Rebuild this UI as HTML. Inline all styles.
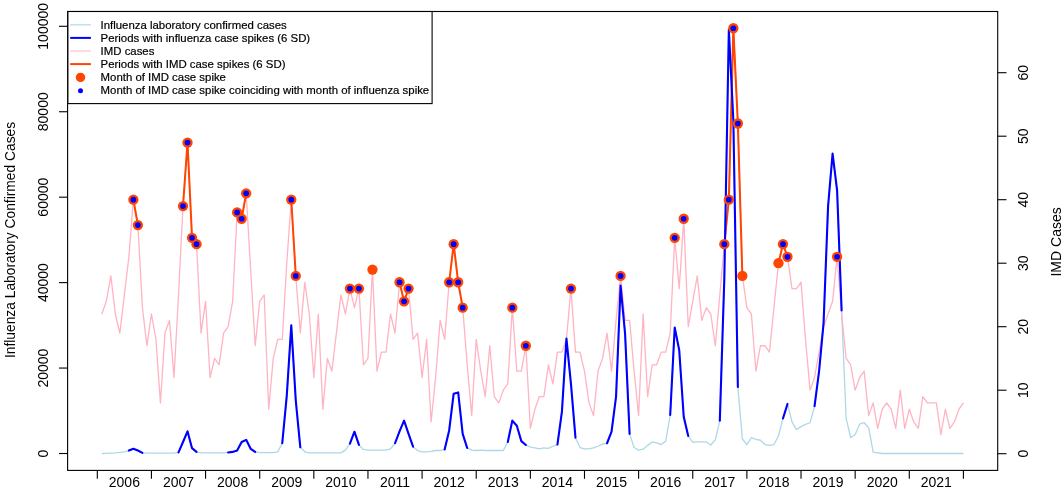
<!DOCTYPE html>
<html><head><meta charset="utf-8"><style>html,body{margin:0;padding:0;background:#fff;width:1064px;height:490px;overflow:hidden}</style></head>
<body><svg width="1064" height="490" viewBox="0 0 1064 490" style="display:block;will-change:transform"><rect x="0" y="0" width="1064" height="490" fill="#ffffff"/><polyline points="101.81,453.50 106.32,453.29 110.83,453.07 115.34,452.86 119.85,452.43 124.37,451.79 128.88,450.51 133.39,448.80 137.90,450.51 142.41,452.86 146.92,453.20 151.43,453.20 155.94,453.20 160.45,453.20 164.97,453.20 169.48,453.20 173.99,453.20 178.50,452.43 183.01,441.97 187.52,431.29 192.03,448.16 196.54,451.88 201.05,452.86 205.56,452.86 210.07,452.86 214.59,452.86 219.10,452.86 223.61,452.86 228.12,452.43 232.63,451.88 237.14,450.51 241.65,441.97 246.16,439.83 250.67,448.80 255.19,451.88 259.70,452.65 264.21,452.65 268.72,452.65 273.23,452.65 277.74,451.88 282.25,443.25 286.76,395.83 291.27,325.34 295.78,400.53 300.30,447.31 304.81,451.79 309.32,452.86 313.83,452.86 318.34,452.86 322.85,452.86 327.36,452.86 331.87,452.86 336.38,452.86 340.89,452.86 345.41,450.08 349.92,443.67 354.43,431.71 358.94,444.96 363.45,449.44 367.96,450.08 372.47,450.08 376.98,450.08 381.49,450.08 386.00,450.08 390.52,448.80 395.03,443.25 399.54,431.29 404.05,420.61 408.56,433.85 413.07,446.66 417.58,450.51 422.09,451.79 426.60,451.79 431.11,451.36 435.62,450.51 440.14,450.51 444.65,449.44 449.16,430.43 453.67,393.69 458.18,392.41 462.69,433.85 467.20,447.95 471.71,450.08 476.22,450.51 480.74,450.08 485.25,450.51 489.76,450.51 494.27,450.51 498.78,450.51 503.29,450.51 507.80,441.97 512.31,420.61 516.82,425.73 521.33,441.11 525.85,444.96 530.36,447.09 534.87,447.95 539.38,448.80 543.89,447.95 548.40,448.37 552.91,446.24 557.42,444.53 561.93,411.63 566.44,338.58 570.96,383.87 575.47,437.69 579.98,447.52 584.49,448.80 589.00,448.80 593.51,447.95 598.02,446.24 602.53,444.10 607.04,443.25 611.55,431.71 616.06,396.68 620.58,285.61 625.09,333.88 629.60,433.85 634.11,447.52 638.62,450.08 643.13,449.23 647.64,445.38 652.15,441.97 656.66,442.82 661.17,444.53 665.69,441.11 670.20,415.05 674.71,327.48 679.22,350.12 683.73,416.76 688.24,435.98 692.75,442.39 697.26,441.97 701.77,441.97 706.28,441.97 710.80,444.96 715.31,439.83 719.82,420.61 724.33,278.35 728.84,29.72 733.35,120.28 737.86,386.86 742.37,438.98 746.88,444.53 751.39,437.69 755.91,439.40 760.42,440.26 764.93,444.53 769.44,445.38 773.95,444.53 778.46,435.98 782.97,418.47 787.48,403.94 791.99,421.89 796.50,429.58 801.02,426.59 805.53,424.45 810.04,422.74 814.55,406.08 819.06,371.48 823.57,323.20 828.08,206.15 832.59,153.61 837.10,190.34 841.62,310.39 846.13,418.47 850.64,437.48 855.15,434.70 859.66,424.02 864.17,422.74 868.68,427.87 873.19,452.22 877.70,452.86 882.21,453.50 886.73,453.50 891.24,453.50 895.75,453.50 900.26,453.50 904.77,453.50 909.28,453.50 913.79,453.50 918.30,453.50 922.81,453.50 927.32,453.50 931.83,453.50 936.35,453.50 940.86,453.50 945.37,453.50 949.88,453.50 954.39,453.50 958.90,453.50 963.41,453.50" fill="none" stroke="#ADD8E6" stroke-width="1.3" stroke-linejoin="round"/><polyline points="101.81,314.00 106.32,301.30 110.83,275.90 115.34,314.00 119.85,333.05 124.37,294.95 128.88,256.85 133.39,199.70 137.90,225.10 142.41,307.65 146.92,345.75 151.43,314.00 155.94,339.40 160.45,402.90 164.97,333.05 169.48,320.35 173.99,377.50 178.50,294.95 183.01,206.05 187.52,142.55 192.03,237.80 196.54,244.15 201.05,333.05 205.56,301.30 210.07,377.50 214.59,358.45 219.10,364.80 223.61,333.05 228.12,326.70 232.63,301.30 237.14,212.40 241.65,218.75 246.16,193.35 250.67,269.55 255.19,345.75 259.70,301.30 264.21,294.95 268.72,409.25 273.23,358.45 277.74,339.40 282.25,339.40 286.76,263.20 291.27,199.70 295.78,275.90 300.30,333.05 304.81,282.25 309.32,314.00 313.83,377.50 318.34,314.00 322.85,409.25 327.36,358.45 331.87,371.15 336.38,333.05 340.89,294.95 345.41,314.00 349.92,288.60 354.43,307.65 358.94,288.60 363.45,364.80 367.96,358.45 372.47,269.55 376.98,371.15 381.49,352.10 386.00,352.10 390.52,314.00 395.03,333.05 399.54,282.25 404.05,301.30 408.56,288.60 413.07,339.40 417.58,333.05 422.09,377.50 426.60,339.40 431.11,421.95 435.62,377.50 440.14,320.35 444.65,339.40 449.16,282.25 453.67,244.15 458.18,282.25 462.69,307.65 467.20,364.80 471.71,415.60 476.22,339.40 480.74,371.15 485.25,396.55 489.76,345.75 494.27,396.55 498.78,402.90 503.29,390.20 507.80,383.85 512.31,307.65 516.82,371.15 521.33,371.15 525.85,345.75 530.36,428.30 534.87,409.25 539.38,396.55 543.89,396.55 548.40,364.80 552.91,383.85 557.42,352.10 561.93,352.10 566.44,339.40 570.96,288.60 575.47,352.10 579.98,352.10 584.49,371.15 589.00,402.90 593.51,415.60 598.02,371.15 602.53,358.45 607.04,333.05 611.55,371.15 616.06,320.35 620.58,275.90 625.09,320.35 629.60,320.35 634.11,371.15 638.62,415.60 643.13,314.00 647.64,396.55 652.15,364.80 656.66,364.80 661.17,352.10 665.69,352.10 670.20,333.05 674.71,237.80 679.22,288.60 683.73,218.75 688.24,326.70 692.75,301.30 697.26,275.90 701.77,320.35 706.28,307.65 710.80,314.00 715.31,345.75 719.82,294.95 724.33,244.15 728.84,199.70 733.35,28.25 737.86,123.50 742.37,275.90 746.88,307.65 751.39,314.00 755.91,371.15 760.42,345.75 764.93,345.75 769.44,352.10 773.95,307.65 778.46,263.20 782.97,244.15 787.48,256.85 791.99,288.60 796.50,288.60 801.02,282.25 805.53,339.40 810.04,390.20 814.55,377.50 819.06,352.10 823.57,326.70 828.08,314.00 832.59,301.30 837.10,256.85 841.62,314.00 846.13,358.45 850.64,364.80 855.15,390.20 859.66,377.50 864.17,371.15 868.68,415.60 873.19,402.90 877.70,428.30 882.21,409.25 886.73,402.90 891.24,409.25 895.75,428.30 900.26,390.20 904.77,428.30 909.28,409.25 913.79,421.95 918.30,428.30 922.81,396.55 927.32,402.90 931.83,402.90 936.35,402.90 940.86,434.65 945.37,409.25 949.88,428.30 954.39,421.95 958.90,409.25 963.41,402.90" fill="none" stroke="#FFB4C2" stroke-width="1.3" stroke-linejoin="round"/><polyline points="133.39,199.70 137.90,225.10" fill="none" stroke="#FF4500" stroke-width="2.0" stroke-linejoin="round" stroke-linecap="round"/><polyline points="183.01,206.05 187.52,142.55 192.03,237.80 196.54,244.15" fill="none" stroke="#FF4500" stroke-width="2.0" stroke-linejoin="round" stroke-linecap="round"/><polyline points="237.14,212.40 241.65,218.75 246.16,193.35" fill="none" stroke="#FF4500" stroke-width="2.0" stroke-linejoin="round" stroke-linecap="round"/><polyline points="291.27,199.70 295.78,275.90" fill="none" stroke="#FF4500" stroke-width="2.0" stroke-linejoin="round" stroke-linecap="round"/><polyline points="399.54,282.25 404.05,301.30 408.56,288.60" fill="none" stroke="#FF4500" stroke-width="2.0" stroke-linejoin="round" stroke-linecap="round"/><polyline points="449.16,282.25 453.67,244.15 458.18,282.25 462.69,307.65" fill="none" stroke="#FF4500" stroke-width="2.0" stroke-linejoin="round" stroke-linecap="round"/><polyline points="724.33,244.15 728.84,199.70 733.35,28.25 737.86,123.50 742.37,275.90" fill="none" stroke="#FF4500" stroke-width="2.0" stroke-linejoin="round" stroke-linecap="round"/><polyline points="778.46,263.20 782.97,244.15 787.48,256.85" fill="none" stroke="#FF4500" stroke-width="2.0" stroke-linejoin="round" stroke-linecap="round"/><polyline points="128.88,450.51 133.39,448.80 137.90,450.51 142.41,452.86" fill="none" stroke="#0000FF" stroke-width="2.1" stroke-linejoin="round" stroke-linecap="round"/><polyline points="178.50,452.43 183.01,441.97 187.52,431.29 192.03,448.16 196.54,451.88" fill="none" stroke="#0000FF" stroke-width="2.1" stroke-linejoin="round" stroke-linecap="round"/><polyline points="228.12,452.43 232.63,451.88 237.14,450.51 241.65,441.97 246.16,439.83 250.67,448.80 255.19,451.88" fill="none" stroke="#0000FF" stroke-width="2.1" stroke-linejoin="round" stroke-linecap="round"/><polyline points="282.25,443.25 286.76,395.83 291.27,325.34 295.78,400.53 300.30,447.31" fill="none" stroke="#0000FF" stroke-width="2.1" stroke-linejoin="round" stroke-linecap="round"/><polyline points="349.92,443.67 354.43,431.71 358.94,444.96" fill="none" stroke="#0000FF" stroke-width="2.1" stroke-linejoin="round" stroke-linecap="round"/><polyline points="395.03,443.25 399.54,431.29 404.05,420.61 408.56,433.85 413.07,446.66" fill="none" stroke="#0000FF" stroke-width="2.1" stroke-linejoin="round" stroke-linecap="round"/><polyline points="444.65,449.44 449.16,430.43 453.67,393.69 458.18,392.41 462.69,433.85 467.20,447.95" fill="none" stroke="#0000FF" stroke-width="2.1" stroke-linejoin="round" stroke-linecap="round"/><polyline points="507.80,441.97 512.31,420.61 516.82,425.73 521.33,441.11 525.85,444.96" fill="none" stroke="#0000FF" stroke-width="2.1" stroke-linejoin="round" stroke-linecap="round"/><polyline points="557.42,444.53 561.93,411.63 566.44,338.58 570.96,383.87 575.47,437.69" fill="none" stroke="#0000FF" stroke-width="2.1" stroke-linejoin="round" stroke-linecap="round"/><polyline points="607.04,443.25 611.55,431.71 616.06,396.68 620.58,285.61 625.09,333.88 629.60,433.85" fill="none" stroke="#0000FF" stroke-width="2.1" stroke-linejoin="round" stroke-linecap="round"/><polyline points="670.20,415.05 674.71,327.48 679.22,350.12 683.73,416.76 688.24,435.98" fill="none" stroke="#0000FF" stroke-width="2.1" stroke-linejoin="round" stroke-linecap="round"/><polyline points="719.82,420.61 724.33,278.35 728.84,29.72 733.35,120.28 737.86,386.86" fill="none" stroke="#0000FF" stroke-width="2.1" stroke-linejoin="round" stroke-linecap="round"/><polyline points="782.97,418.47 787.48,403.94" fill="none" stroke="#0000FF" stroke-width="2.1" stroke-linejoin="round" stroke-linecap="round"/><polyline points="814.55,406.08 819.06,371.48 823.57,323.20 828.08,206.15 832.59,153.61 837.10,190.34 841.62,310.39" fill="none" stroke="#0000FF" stroke-width="2.1" stroke-linejoin="round" stroke-linecap="round"/><circle cx="133.39" cy="199.70" r="5.15" fill="#FF4500"/><circle cx="137.90" cy="225.10" r="5.15" fill="#FF4500"/><circle cx="183.01" cy="206.05" r="5.15" fill="#FF4500"/><circle cx="187.52" cy="142.55" r="5.15" fill="#FF4500"/><circle cx="192.03" cy="237.80" r="5.15" fill="#FF4500"/><circle cx="196.54" cy="244.15" r="5.15" fill="#FF4500"/><circle cx="237.14" cy="212.40" r="5.15" fill="#FF4500"/><circle cx="241.65" cy="218.75" r="5.15" fill="#FF4500"/><circle cx="246.16" cy="193.35" r="5.15" fill="#FF4500"/><circle cx="291.27" cy="199.70" r="5.15" fill="#FF4500"/><circle cx="295.78" cy="275.90" r="5.15" fill="#FF4500"/><circle cx="349.92" cy="288.60" r="5.15" fill="#FF4500"/><circle cx="358.94" cy="288.60" r="5.15" fill="#FF4500"/><circle cx="372.47" cy="269.55" r="5.15" fill="#FF4500"/><circle cx="399.54" cy="282.25" r="5.15" fill="#FF4500"/><circle cx="404.05" cy="301.30" r="5.15" fill="#FF4500"/><circle cx="408.56" cy="288.60" r="5.15" fill="#FF4500"/><circle cx="449.16" cy="282.25" r="5.15" fill="#FF4500"/><circle cx="453.67" cy="244.15" r="5.15" fill="#FF4500"/><circle cx="458.18" cy="282.25" r="5.15" fill="#FF4500"/><circle cx="462.69" cy="307.65" r="5.15" fill="#FF4500"/><circle cx="512.31" cy="307.65" r="5.15" fill="#FF4500"/><circle cx="525.85" cy="345.75" r="5.15" fill="#FF4500"/><circle cx="570.96" cy="288.60" r="5.15" fill="#FF4500"/><circle cx="620.58" cy="275.90" r="5.15" fill="#FF4500"/><circle cx="674.71" cy="237.80" r="5.15" fill="#FF4500"/><circle cx="683.73" cy="218.75" r="5.15" fill="#FF4500"/><circle cx="724.33" cy="244.15" r="5.15" fill="#FF4500"/><circle cx="728.84" cy="199.70" r="5.15" fill="#FF4500"/><circle cx="733.35" cy="28.25" r="5.15" fill="#FF4500"/><circle cx="737.86" cy="123.50" r="5.15" fill="#FF4500"/><circle cx="742.37" cy="275.90" r="5.15" fill="#FF4500"/><circle cx="778.46" cy="263.20" r="5.15" fill="#FF4500"/><circle cx="782.97" cy="244.15" r="5.15" fill="#FF4500"/><circle cx="787.48" cy="256.85" r="5.15" fill="#FF4500"/><circle cx="837.10" cy="256.85" r="5.15" fill="#FF4500"/><circle cx="133.39" cy="199.70" r="2.85" fill="#0000FF"/><circle cx="137.90" cy="225.10" r="2.85" fill="#0000FF"/><circle cx="183.01" cy="206.05" r="2.85" fill="#0000FF"/><circle cx="187.52" cy="142.55" r="2.85" fill="#0000FF"/><circle cx="192.03" cy="237.80" r="2.85" fill="#0000FF"/><circle cx="196.54" cy="244.15" r="2.85" fill="#0000FF"/><circle cx="237.14" cy="212.40" r="2.85" fill="#0000FF"/><circle cx="241.65" cy="218.75" r="2.85" fill="#0000FF"/><circle cx="246.16" cy="193.35" r="2.85" fill="#0000FF"/><circle cx="291.27" cy="199.70" r="2.85" fill="#0000FF"/><circle cx="295.78" cy="275.90" r="2.85" fill="#0000FF"/><circle cx="349.92" cy="288.60" r="2.85" fill="#0000FF"/><circle cx="358.94" cy="288.60" r="2.85" fill="#0000FF"/><circle cx="399.54" cy="282.25" r="2.85" fill="#0000FF"/><circle cx="404.05" cy="301.30" r="2.85" fill="#0000FF"/><circle cx="408.56" cy="288.60" r="2.85" fill="#0000FF"/><circle cx="449.16" cy="282.25" r="2.85" fill="#0000FF"/><circle cx="453.67" cy="244.15" r="2.85" fill="#0000FF"/><circle cx="458.18" cy="282.25" r="2.85" fill="#0000FF"/><circle cx="462.69" cy="307.65" r="2.85" fill="#0000FF"/><circle cx="512.31" cy="307.65" r="2.85" fill="#0000FF"/><circle cx="525.85" cy="345.75" r="2.85" fill="#0000FF"/><circle cx="570.96" cy="288.60" r="2.85" fill="#0000FF"/><circle cx="620.58" cy="275.90" r="2.85" fill="#0000FF"/><circle cx="674.71" cy="237.80" r="2.85" fill="#0000FF"/><circle cx="683.73" cy="218.75" r="2.85" fill="#0000FF"/><circle cx="724.33" cy="244.15" r="2.85" fill="#0000FF"/><circle cx="728.84" cy="199.70" r="2.85" fill="#0000FF"/><circle cx="733.35" cy="28.25" r="2.85" fill="#0000FF"/><circle cx="737.86" cy="123.50" r="2.85" fill="#0000FF"/><circle cx="782.97" cy="244.15" r="2.85" fill="#0000FF"/><circle cx="787.48" cy="256.85" r="2.85" fill="#0000FF"/><circle cx="837.10" cy="256.85" r="2.85" fill="#0000FF"/><rect x="67.6" y="11.5" width="930.1" height="458.9" fill="none" stroke="#000" stroke-width="1.1"/><line x1="59" y1="453.50" x2="67.6" y2="453.50" stroke="#000" stroke-width="1.1"/><text x="48.4" y="453.50" transform="rotate(-90 48.4 453.50)" text-anchor="middle" font-family='"Liberation Sans", sans-serif' font-size="14" fill="#000">0</text><line x1="59" y1="368.06" x2="67.6" y2="368.06" stroke="#000" stroke-width="1.1"/><text x="48.4" y="368.06" transform="rotate(-90 48.4 368.06)" text-anchor="middle" font-family='"Liberation Sans", sans-serif' font-size="14" fill="#000">20000</text><line x1="59" y1="282.62" x2="67.6" y2="282.62" stroke="#000" stroke-width="1.1"/><text x="48.4" y="282.62" transform="rotate(-90 48.4 282.62)" text-anchor="middle" font-family='"Liberation Sans", sans-serif' font-size="14" fill="#000">40000</text><line x1="59" y1="197.18" x2="67.6" y2="197.18" stroke="#000" stroke-width="1.1"/><text x="48.4" y="197.18" transform="rotate(-90 48.4 197.18)" text-anchor="middle" font-family='"Liberation Sans", sans-serif' font-size="14" fill="#000">60000</text><line x1="59" y1="111.74" x2="67.6" y2="111.74" stroke="#000" stroke-width="1.1"/><text x="48.4" y="111.74" transform="rotate(-90 48.4 111.74)" text-anchor="middle" font-family='"Liberation Sans", sans-serif' font-size="14" fill="#000">80000</text><line x1="59" y1="26.30" x2="67.6" y2="26.30" stroke="#000" stroke-width="1.1"/><text x="48.4" y="26.30" transform="rotate(-90 48.4 26.30)" text-anchor="middle" font-family='"Liberation Sans", sans-serif' font-size="14" fill="#000">100000</text><line x1="997.7" y1="453.70" x2="1006.5" y2="453.70" stroke="#000" stroke-width="1.1"/><text x="1027.8" y="453.70" transform="rotate(-90 1027.8 453.70)" text-anchor="middle" font-family='"Liberation Sans", sans-serif' font-size="14" fill="#000">0</text><line x1="997.7" y1="390.20" x2="1006.5" y2="390.20" stroke="#000" stroke-width="1.1"/><text x="1027.8" y="390.20" transform="rotate(-90 1027.8 390.20)" text-anchor="middle" font-family='"Liberation Sans", sans-serif' font-size="14" fill="#000">10</text><line x1="997.7" y1="326.70" x2="1006.5" y2="326.70" stroke="#000" stroke-width="1.1"/><text x="1027.8" y="326.70" transform="rotate(-90 1027.8 326.70)" text-anchor="middle" font-family='"Liberation Sans", sans-serif' font-size="14" fill="#000">20</text><line x1="997.7" y1="263.20" x2="1006.5" y2="263.20" stroke="#000" stroke-width="1.1"/><text x="1027.8" y="263.20" transform="rotate(-90 1027.8 263.20)" text-anchor="middle" font-family='"Liberation Sans", sans-serif' font-size="14" fill="#000">30</text><line x1="997.7" y1="199.70" x2="1006.5" y2="199.70" stroke="#000" stroke-width="1.1"/><text x="1027.8" y="199.70" transform="rotate(-90 1027.8 199.70)" text-anchor="middle" font-family='"Liberation Sans", sans-serif' font-size="14" fill="#000">40</text><line x1="997.7" y1="136.20" x2="1006.5" y2="136.20" stroke="#000" stroke-width="1.1"/><text x="1027.8" y="136.20" transform="rotate(-90 1027.8 136.20)" text-anchor="middle" font-family='"Liberation Sans", sans-serif' font-size="14" fill="#000">50</text><line x1="997.7" y1="72.70" x2="1006.5" y2="72.70" stroke="#000" stroke-width="1.1"/><text x="1027.8" y="72.70" transform="rotate(-90 1027.8 72.70)" text-anchor="middle" font-family='"Liberation Sans", sans-serif' font-size="14" fill="#000">60</text><line x1="97.30" y1="470.4" x2="97.30" y2="478.8" stroke="#000" stroke-width="1.1"/><line x1="151.43" y1="470.4" x2="151.43" y2="478.8" stroke="#000" stroke-width="1.1"/><line x1="205.56" y1="470.4" x2="205.56" y2="478.8" stroke="#000" stroke-width="1.1"/><line x1="259.70" y1="470.4" x2="259.70" y2="478.8" stroke="#000" stroke-width="1.1"/><line x1="313.83" y1="470.4" x2="313.83" y2="478.8" stroke="#000" stroke-width="1.1"/><line x1="367.96" y1="470.4" x2="367.96" y2="478.8" stroke="#000" stroke-width="1.1"/><line x1="422.09" y1="470.4" x2="422.09" y2="478.8" stroke="#000" stroke-width="1.1"/><line x1="476.22" y1="470.4" x2="476.22" y2="478.8" stroke="#000" stroke-width="1.1"/><line x1="530.36" y1="470.4" x2="530.36" y2="478.8" stroke="#000" stroke-width="1.1"/><line x1="584.49" y1="470.4" x2="584.49" y2="478.8" stroke="#000" stroke-width="1.1"/><line x1="638.62" y1="470.4" x2="638.62" y2="478.8" stroke="#000" stroke-width="1.1"/><line x1="692.75" y1="470.4" x2="692.75" y2="478.8" stroke="#000" stroke-width="1.1"/><line x1="746.88" y1="470.4" x2="746.88" y2="478.8" stroke="#000" stroke-width="1.1"/><line x1="801.02" y1="470.4" x2="801.02" y2="478.8" stroke="#000" stroke-width="1.1"/><line x1="855.15" y1="470.4" x2="855.15" y2="478.8" stroke="#000" stroke-width="1.1"/><line x1="909.28" y1="470.4" x2="909.28" y2="478.8" stroke="#000" stroke-width="1.1"/><line x1="963.41" y1="470.4" x2="963.41" y2="478.8" stroke="#000" stroke-width="1.1"/><text x="124.37" y="487.3" text-anchor="middle" font-family='"Liberation Sans", sans-serif' font-size="14" fill="#000">2006</text><text x="178.50" y="487.3" text-anchor="middle" font-family='"Liberation Sans", sans-serif' font-size="14" fill="#000">2007</text><text x="232.63" y="487.3" text-anchor="middle" font-family='"Liberation Sans", sans-serif' font-size="14" fill="#000">2008</text><text x="286.76" y="487.3" text-anchor="middle" font-family='"Liberation Sans", sans-serif' font-size="14" fill="#000">2009</text><text x="340.89" y="487.3" text-anchor="middle" font-family='"Liberation Sans", sans-serif' font-size="14" fill="#000">2010</text><text x="395.03" y="487.3" text-anchor="middle" font-family='"Liberation Sans", sans-serif' font-size="14" fill="#000">2011</text><text x="449.16" y="487.3" text-anchor="middle" font-family='"Liberation Sans", sans-serif' font-size="14" fill="#000">2012</text><text x="503.29" y="487.3" text-anchor="middle" font-family='"Liberation Sans", sans-serif' font-size="14" fill="#000">2013</text><text x="557.42" y="487.3" text-anchor="middle" font-family='"Liberation Sans", sans-serif' font-size="14" fill="#000">2014</text><text x="611.55" y="487.3" text-anchor="middle" font-family='"Liberation Sans", sans-serif' font-size="14" fill="#000">2015</text><text x="665.69" y="487.3" text-anchor="middle" font-family='"Liberation Sans", sans-serif' font-size="14" fill="#000">2016</text><text x="719.82" y="487.3" text-anchor="middle" font-family='"Liberation Sans", sans-serif' font-size="14" fill="#000">2017</text><text x="773.95" y="487.3" text-anchor="middle" font-family='"Liberation Sans", sans-serif' font-size="14" fill="#000">2018</text><text x="828.08" y="487.3" text-anchor="middle" font-family='"Liberation Sans", sans-serif' font-size="14" fill="#000">2019</text><text x="882.21" y="487.3" text-anchor="middle" font-family='"Liberation Sans", sans-serif' font-size="14" fill="#000">2020</text><text x="936.35" y="487.3" text-anchor="middle" font-family='"Liberation Sans", sans-serif' font-size="14" fill="#000">2021</text><text x="15.4" y="240.0" transform="rotate(-90 15.4 240.0)" text-anchor="middle" font-family='"Liberation Sans", sans-serif' font-size="13.8" fill="#000">Influenza Laboratory Confirmed Cases</text><text x="1061" y="241.9" transform="rotate(-90 1061 241.9)" text-anchor="middle" font-family='"Liberation Sans", sans-serif' font-size="14" fill="#000">IMD Cases</text><rect x="67.9" y="11.5" width="364.20000000000005" height="92.1" fill="#fff" stroke="#000" stroke-width="1.1"/><line x1="70.2" y1="24.85" x2="90.9" y2="24.85" stroke="#ADD8E6" stroke-width="1.2"/><line x1="70.2" y1="37.9" x2="90.9" y2="37.9" stroke="#0000FF" stroke-width="2.0"/><line x1="70.2" y1="51.0" x2="90.9" y2="51.0" stroke="#FFC0CB" stroke-width="1.2"/><line x1="70.2" y1="64.1" x2="90.9" y2="64.1" stroke="#FF4500" stroke-width="2.0"/><circle cx="80.5" cy="77.4" r="4.7" fill="#FF4500"/><circle cx="80.5" cy="90.7" r="2.5" fill="#0000FF"/><text x="100.6" y="28.55" font-family='"Liberation Sans", sans-serif' font-size="11.4" fill="#000" stroke="#000" stroke-width="0.2">Influenza laboratory confirmed cases</text><text x="100.6" y="41.60" font-family='"Liberation Sans", sans-serif' font-size="11.4" fill="#000" stroke="#000" stroke-width="0.2">Periods with influenza case spikes (6 SD)</text><text x="100.6" y="54.70" font-family='"Liberation Sans", sans-serif' font-size="11.4" fill="#000" stroke="#000" stroke-width="0.2">IMD cases</text><text x="100.6" y="67.80" font-family='"Liberation Sans", sans-serif' font-size="11.4" fill="#000" stroke="#000" stroke-width="0.2">Periods with IMD case spikes (6 SD)</text><text x="100.6" y="81.10" font-family='"Liberation Sans", sans-serif' font-size="11.4" fill="#000" stroke="#000" stroke-width="0.2">Month of IMD case spike</text><text x="100.6" y="94.40" font-family='"Liberation Sans", sans-serif' font-size="11.4" fill="#000" stroke="#000" stroke-width="0.2">Month of IMD case spike coinciding with month of influenza spike</text></svg></body></html>
